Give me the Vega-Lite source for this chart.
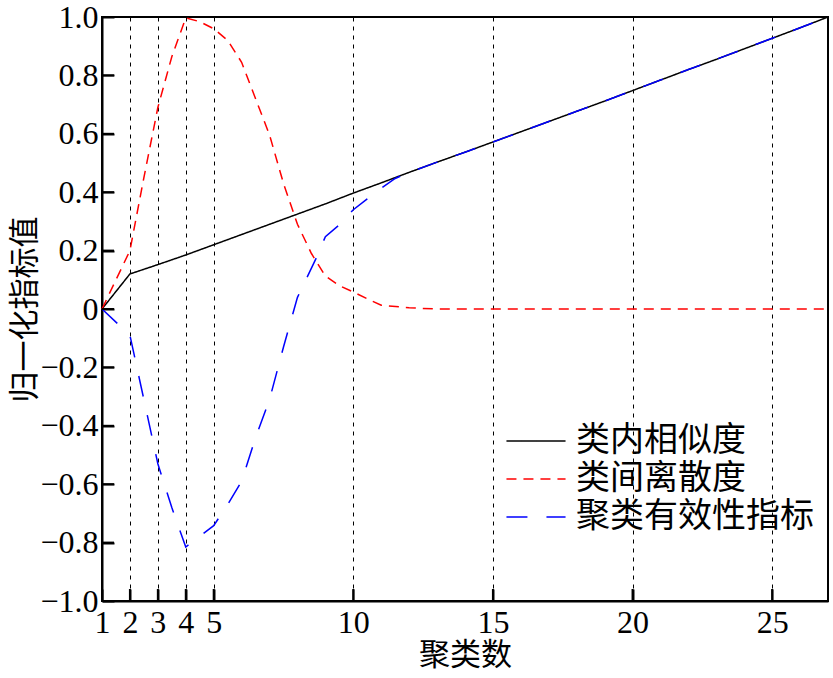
{
  "$schema": "https://vega.github.io/schema/vega-lite/v6.json",
  "autosize": "none",
  "width": 726,
  "height": 584,
  "padding": {"left": 102, "top": 17, "right": 5, "bottom": 77},
  "background": "white",
  "config": {
    "view": {"stroke": "black", "strokeWidth": 2},
    "axis": {
      "domainColor": "black", "domainWidth": 2,
      "tickColor": "black", "tickWidth": 2, "tickSize": -12,
      "labelFont": "Liberation Serif", "labelFontSize": 32, "labelColor": "black",
      "titleFont": "Noto Sans CJK SC", "titleFontSize": 31, "titleFontWeight": "normal", "titleColor": "black"
    },
    "legend": {
      "labelFont": "Noto Sans CJK SC", "labelFontSize": 34, "labelColor": "black", "labelLimit": 400,
      "symbolType": "M-3,0H3", "symbolSize": 388, "symbolStrokeWidth": 1.5,
      "padding": 0, "labelOffset": 23, "rowPadding": 4
    }
  },
  "datasets": {
    "curves": [
      {"x": 1, "y": 0, "s": "类内相似度"},
      {"x": 2, "y": 0.12, "s": "类内相似度"},
      {"x": 3, "y": 0.152, "s": "类内相似度"},
      {"x": 4, "y": 0.185, "s": "类内相似度"},
      {"x": 5, "y": 0.22, "s": "类内相似度"},
      {"x": 6, "y": 0.255, "s": "类内相似度"},
      {"x": 7, "y": 0.29, "s": "类内相似度"},
      {"x": 8, "y": 0.325, "s": "类内相似度"},
      {"x": 9, "y": 0.36, "s": "类内相似度"},
      {"x": 10, "y": 0.397, "s": "类内相似度"},
      {"x": 11, "y": 0.432, "s": "类内相似度"},
      {"x": 12, "y": 0.468, "s": "类内相似度"},
      {"x": 13, "y": 0.503, "s": "类内相似度"},
      {"x": 14, "y": 0.537, "s": "类内相似度"},
      {"x": 15, "y": 0.572, "s": "类内相似度"},
      {"x": 16, "y": 0.607, "s": "类内相似度"},
      {"x": 17, "y": 0.642, "s": "类内相似度"},
      {"x": 18, "y": 0.677, "s": "类内相似度"},
      {"x": 19, "y": 0.712, "s": "类内相似度"},
      {"x": 20, "y": 0.748, "s": "类内相似度"},
      {"x": 21, "y": 0.784, "s": "类内相似度"},
      {"x": 22, "y": 0.82, "s": "类内相似度"},
      {"x": 23, "y": 0.855, "s": "类内相似度"},
      {"x": 24, "y": 0.891, "s": "类内相似度"},
      {"x": 25, "y": 0.927, "s": "类内相似度"},
      {"x": 26, "y": 0.963, "s": "类内相似度"},
      {"x": 27, "y": 1.0, "s": "类内相似度"},

      {"x": 1, "y": 0, "s": "类间离散度"},
      {"x": 1.5, "y": 0.1, "s": "类间离散度"},
      {"x": 2, "y": 0.2, "s": "类间离散度"},
      {"x": 2.5, "y": 0.45, "s": "类间离散度"},
      {"x": 3, "y": 0.69, "s": "类间离散度"},
      {"x": 3.5, "y": 0.864, "s": "类间离散度"},
      {"x": 4, "y": 0.997, "s": "类间离散度"},
      {"x": 4.5, "y": 0.984, "s": "类间离散度"},
      {"x": 5, "y": 0.96, "s": "类间离散度"},
      {"x": 5.5, "y": 0.92, "s": "类间离散度"},
      {"x": 6, "y": 0.845, "s": "类间离散度"},
      {"x": 6.5, "y": 0.72, "s": "类间离散度"},
      {"x": 7, "y": 0.596, "s": "类间离散度"},
      {"x": 7.5, "y": 0.43, "s": "类间离散度"},
      {"x": 8, "y": 0.29, "s": "类间离散度"},
      {"x": 8.5, "y": 0.19, "s": "类间离散度"},
      {"x": 9, "y": 0.113, "s": "类间离散度"},
      {"x": 9.5, "y": 0.08, "s": "类间离散度"},
      {"x": 10, "y": 0.058, "s": "类间离散度"},
      {"x": 10.5, "y": 0.035, "s": "类间离散度"},
      {"x": 11, "y": 0.013, "s": "类间离散度"},
      {"x": 12, "y": 0.004, "s": "类间离散度"},
      {"x": 13, "y": 0, "s": "类间离散度"},
      {"x": 15, "y": 0, "s": "类间离散度"},
      {"x": 20, "y": 0, "s": "类间离散度"},
      {"x": 25, "y": 0, "s": "类间离散度"},
      {"x": 27, "y": 0, "s": "类间离散度"},

      {"x": 1, "y": 0, "s": "聚类有效性指标"},
      {"x": 2, "y": -0.09, "s": "聚类有效性指标"},
      {"x": 2.5, "y": -0.31, "s": "聚类有效性指标"},
      {"x": 3, "y": -0.53, "s": "聚类有效性指标"},
      {"x": 3.5, "y": -0.68, "s": "聚类有效性指标"},
      {"x": 4, "y": -0.815, "s": "聚类有效性指标"},
      {"x": 5, "y": -0.742, "s": "聚类有效性指标"},
      {"x": 5.5, "y": -0.67, "s": "聚类有效性指标"},
      {"x": 6, "y": -0.59, "s": "聚类有效性指标"},
      {"x": 6.5, "y": -0.44, "s": "聚类有效性指标"},
      {"x": 7, "y": -0.31, "s": "聚类有效性指标"},
      {"x": 7.5, "y": -0.13, "s": "聚类有效性指标"},
      {"x": 8, "y": 0.04, "s": "聚类有效性指标"},
      {"x": 8.7, "y": 0.18, "s": "聚类有效性指标"},
      {"x": 9, "y": 0.248, "s": "聚类有效性指标"},
      {"x": 9.5, "y": 0.288, "s": "聚类有效性指标"},
      {"x": 10, "y": 0.34, "s": "聚类有效性指标"},
      {"x": 10.5, "y": 0.377, "s": "聚类有效性指标"},
      {"x": 11, "y": 0.414, "s": "聚类有效性指标"},
      {"x": 11.5, "y": 0.447, "s": "聚类有效性指标"},
      {"x": 12, "y": 0.468, "s": "聚类有效性指标"},
      {"x": 13, "y": 0.503, "s": "聚类有效性指标"},
      {"x": 14, "y": 0.537, "s": "聚类有效性指标"},
      {"x": 15, "y": 0.572, "s": "聚类有效性指标"},
      {"x": 16, "y": 0.607, "s": "聚类有效性指标"},
      {"x": 17, "y": 0.642, "s": "聚类有效性指标"},
      {"x": 18, "y": 0.677, "s": "聚类有效性指标"},
      {"x": 19, "y": 0.712, "s": "聚类有效性指标"},
      {"x": 20, "y": 0.748, "s": "聚类有效性指标"},
      {"x": 21, "y": 0.784, "s": "聚类有效性指标"},
      {"x": 22, "y": 0.82, "s": "聚类有效性指标"},
      {"x": 23, "y": 0.855, "s": "聚类有效性指标"},
      {"x": 24, "y": 0.891, "s": "聚类有效性指标"},
      {"x": 25, "y": 0.927, "s": "聚类有效性指标"},
      {"x": 26, "y": 0.963, "s": "聚类有效性指标"},
      {"x": 27, "y": 1.0, "s": "聚类有效性指标"}
    ],
    "yticks": [
      {"x": 1, "y": -0.8}, {"x": 1, "y": -0.6}, {"x": 1, "y": -0.4}, {"x": 1, "y": -0.2},
      {"x": 1, "y": 0}, {"x": 1, "y": 0.2}, {"x": 1, "y": 0.4}, {"x": 1, "y": 0.6}, {"x": 1, "y": 0.8}
    ],
    "xticks": [
      {"x": 2, "y": -1}, {"x": 3, "y": -1}, {"x": 4, "y": -1}, {"x": 5, "y": -1},
      {"x": 10, "y": -1}, {"x": 15, "y": -1}, {"x": 20, "y": -1}, {"x": 25, "y": -1}
    ]
  },
  "layer": [
    {
      "data": {"name": "curves"},
      "mark": {"type": "line", "strokeWidth": 1.5},
      "encoding": {
        "x": {
          "field": "x", "type": "quantitative",
          "scale": {"domain": [1, 27], "nice": false, "zero": false},
          "axis": {
            "values": [1, 2, 3, 4, 5, 10, 15, 20, 25],
            "grid": true, "gridColor": "black", "gridDash": [4, 5], "gridWidth": 1, "gridOpacity": 1,
            "labelPadding": 18, "labelFlush": false, "title": "聚类数", "titlePadding": 2
          }
        },
        "y": {
          "field": "y", "type": "quantitative",
          "scale": {"domain": [-1, 1], "nice": false, "zero": false},
          "axis": {
            "values": [-1, -0.8, -0.6, -0.4, -0.2, 0, 0.2, 0.4, 0.6, 0.8, 1],
            "grid": false,
            "labelExpr": "datum.value == 0 ? '0' : format(datum.value, '.1f')",
            "labelPadding": 16, "labelFlush": false, "title": "归一化指标值", "titlePadding": -2
          }
        },
        "color": {
          "field": "s", "type": "nominal",
          "scale": {"domain": ["类内相似度", "类间离散度", "聚类有效性指标"], "range": ["black", "red", "blue"]},
          "legend": {"title": null, "orient": "none", "legendX": 417, "legendY": 407}
        },
        "strokeDash": {
          "field": "s", "type": "nominal",
          "scale": {"domain": ["类内相似度", "类间离散度", "聚类有效性指标"], "range": [[1, 0], [10, 7], [21, 19]]},
          "legend": {"title": null, "orient": "none", "legendX": 417, "legendY": 407}
        },
        "order": {"field": "x", "type": "quantitative"}
      }
    },
    {
      "data": {"name": "yticks"},
      "mark": {"type": "rule", "strokeWidth": 2, "color": "black", "x2Offset": 12},
      "encoding": {
        "x": {"field": "x", "type": "quantitative"},
        "x2": {"field": "x"},
        "y": {"field": "y", "type": "quantitative"}
      }
    },
    {
      "data": {"name": "xticks"},
      "mark": {"type": "rule", "strokeWidth": 2, "color": "black", "y2Offset": -12},
      "encoding": {
        "x": {"field": "x", "type": "quantitative"},
        "y": {"field": "y", "type": "quantitative"},
        "y2": {"field": "y"}
      }
    }
  ]
}
